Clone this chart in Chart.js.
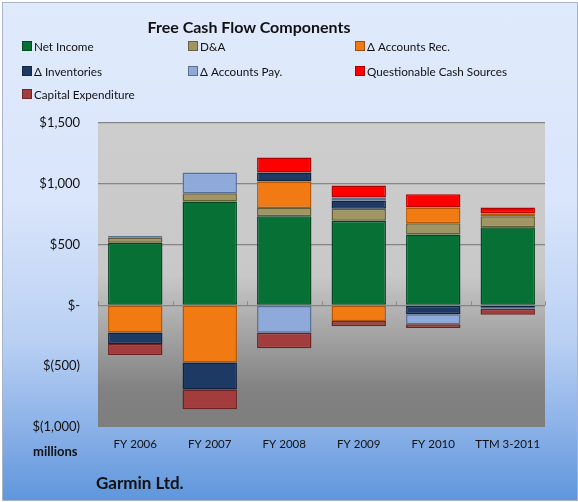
<!DOCTYPE html>
<html>
<head>
<meta charset="utf-8">
<script src="https://cdn.jsdelivr.net/npm/chart.js@4.4.1/dist/chart.umd.min.js"></script>
<style>
  html, body { margin: 0; padding: 0; background: #fff; }
  #box {
    position: relative; width: 574px; height: 497px; margin: 2px;
    border: 1px solid #a9b4c4;
    background: linear-gradient(to bottom, #e0eafc 0%, #d9e5fb 40%, #b9d0f3 68%, #8cb2e8 85%, #5f96dc 100%);
    font-family: Lato, "Open Sans", sans-serif; color: #111;
    overflow: hidden;
  }
  #chart { position: absolute; left: -3px; top: -3px; }
  .title { position: absolute; top: 14px; left: 0; width: 492px; text-align: center; font-weight: bold; font-size: 16px; }
  .legend { position: absolute; top: 36px; left: 19px; width: 520px; font-size: 11.7px; }
  .legend .item { position: absolute; white-space: nowrap; }
  .legend .sw { display: inline-block; width: 8px; height: 8px; margin-right: 2px; vertical-align: 0px; border: 1px solid rgba(0,0,0,0.35); }
  .units { position: absolute; left: 30px; top: 440px; font-weight: bold; font-size: 13px; }
  .company { position: absolute; left: 93px; top: 469px; font-weight: bold; font-size: 17px; }
</style>
</head>
<body>
<div id="box">
  <canvas id="chart" width="578" height="502"></canvas>
  <div class="title">Free Cash Flow Components</div>
  <div class="legend" id="legend"></div>
  <div class="units">millions</div>
  <div class="company">Garmin Ltd.</div>
</div>
<script>
// categorias e valores (US$ milhões)
const categories = ['FY 2006', 'FY 2007', 'FY 2008', 'FY 2009', 'FY 2010', 'TTM 3-2011'];
const netIncome = [515, 855, 733, 697, 583, 643];
const depAmort = [41, 67, 67, 98, 93, 90];
const accountsRec = [-222, -470, 218, -128, 130, 24];
const inventories = [-96, -222, 75, 68, -73, -20];
const accountsPay = [14, 171, -225, 24, -82, -8];
const questionable = [0, 0, 123, 98, 108, 49];
const capex = [-89, -163, -128, -43, -30, -49];
const yTicks = [-1000, -500, 0, 500, 1000, 1500];

const series = [
    { label: 'Net Income', data: netIncome, color: '#067035', border: '#03461f' },
    { label: 'D&A', data: depAmort, color: '#9f9663', border: '#635c34' },
    { label: '\u0394 Accounts Rec.', data: accountsRec, color: '#f27a12', border: '#b35706' },
    { label: '\u0394 Inventories', data: inventories, color: '#1c3a64', border: '#0f2340' },
    { label: '\u0394 Accounts Pay.', data: accountsPay, color: '#8eaadb', border: '#5a6f96' },
    { label: 'Questionable Cash Sources', data: questionable, color: '#ff0000', border: '#b00000' },
    { label: 'Capital Expenditure', data: capex, color: '#a33c3c', border: '#6a2222' }
];

// legenda em 3 colunas
const legendEl = document.getElementById('legend');
const colX = [0, 166, 333];
const rowY = [0, 25, 48];
series.forEach((s, i) => {
    const d = document.createElement('div');
    d.className = 'item';
    d.style.left = colX[i % 3] + 'px';
    d.style.top = rowY[Math.floor(i / 3)] + 'px';
    d.innerHTML = '<span class="sw" style="background:' + s.color + '"></span>' + s.label;
    legendEl.appendChild(d);
});

function fmt(v) {
    if (v === 0) return '$-';
    if (v < 0) return '$(' + Math.abs(v).toLocaleString('en-US') + ')';
    return '$' + v.toLocaleString('en-US');
}

// fundo cinza da área do gráfico
const plotBg = {
    id: 'plotBg',
    beforeDraw(chart) {
        const { ctx, chartArea: a } = chart;
        const g = ctx.createLinearGradient(0, a.top, 0, a.bottom);
        g.addColorStop(0, '#cdcdcd');
        g.addColorStop(0.5, '#c8c8c8');
        g.addColorStop(0.88, '#818181');
        g.addColorStop(1, '#7e7e7e');
        ctx.save();
        ctx.fillStyle = g;
        ctx.fillRect(a.left, a.top, a.right - a.left, a.bottom - a.top);
        ctx.restore();
    },
    afterDatasetsDraw(chart) {
        // marcas entre categorias na linha do zero
        const { ctx, chartArea: a, scales } = chart;
        const y0 = scales.y.getPixelForValue(0);
        const step = (a.right - a.left) / categories.length;
        ctx.save();
        ctx.strokeStyle = '#8a8a8a';
        ctx.lineWidth = 1;
        for (let i = 0; i <= categories.length; i++) {
            const x = Math.round(a.left + i * step) + 0.5;
            ctx.beginPath();
            ctx.moveTo(x, y0);
            ctx.lineTo(x, y0 - 4);
            ctx.stroke();
        }
        ctx.restore();
    }
};

new Chart(document.getElementById('chart'), {
    type: 'bar',
    data: {
        labels: categories,
        datasets: series.map(s => ({
            label: s.label,
            data: s.data,
            backgroundColor: s.color,
            borderColor: s.border,
            borderWidth: 1.5,
            borderSkipped: false,
            categoryPercentage: 1,
            barPercentage: 0.73
        }))
    },
    options: {
        responsive: false,
        animation: false,
        devicePixelRatio: 1,
        layout: { padding: { top: 123, right: 33, bottom: 45, left: 0 } },
        plugins: { legend: { display: false }, tooltip: { enabled: false } },
        scales: {
            x: {
                stacked: true,
                grid: { display: false },
                border: { display: false },
                ticks: { color: '#111', font: { family: 'Lato', size: 11.5 }, padding: 2 },
                afterFit(scale) { scale.height = 30; }
            },
            y: {
                stacked: true,
                min: -1000,
                max: 1500,
                afterBuildTicks(scale) { scale.ticks = yTicks.map(v => ({ value: v })); },
                grid: {
                    color: ctx => ctx.tick && ctx.tick.value >= 0 ? '#858585' : 'rgba(0,0,0,0)',
                    lineWidth: 1.2,
                    drawTicks: false
                },
                border: { display: false },
                ticks: { color: '#111', font: { family: 'Lato', size: 13 }, padding: 18, callback: v => fmt(v) },
                afterFit(scale) { scale.width = 98; }
            }
        }
    },
    plugins: [plotBg]
});
</script>
</body>
</html>
